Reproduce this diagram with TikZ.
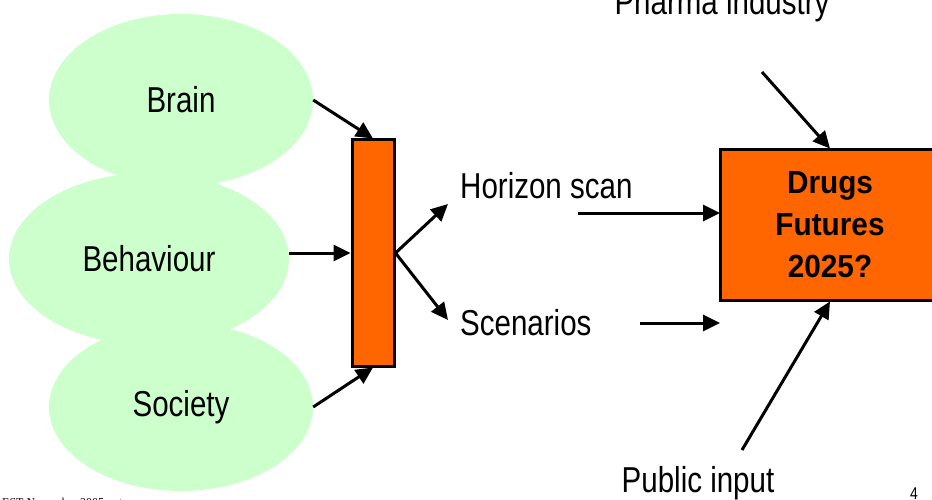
\documentclass[tikz,border=0pt]{standalone}
\usepackage{fontspec}
\setmainfont[FakeStretch=0.82]{Liberation Sans}
\newfontfamily\boxfont[FakeStretch=0.93]{Liberation Sans}
\newfontfamily\footfont{Liberation Serif}
\usetikzlibrary{shapes.geometric,arrows.meta}
\definecolor{palegreen}{HTML}{CCFFCC}
\definecolor{deeporange}{HTML}{FF6600}
\tikzset{
  blob/.style={ellipse, fill=palegreen, inner sep=0pt, minimum width=264pt, minimum height=172pt, font=\fontsize{36}{40}\selectfont},
  label/.style={inner sep=0pt, font=\fontsize{36}{40}\selectfont},
  arr/.style={line width=3pt, -{Triangle[length=17pt,width=16pt]}}
}
\begin{document}
\begin{tikzpicture}[x=1pt,y=-1pt]

    % Fix the page to the slide size
    \useasboundingbox (0,0) rectangle (932,500);

    % The three green bubbles on the left
    \node[blob] (brain) at (181,100) {Brain};
    \node[blob, minimum width=280pt] (behaviour) at (149,259) {Behaviour};
    \node[blob, minimum height=168pt] (society) at (181,407) {Society};

    % The orange bar in the middle
    \node[draw, line width=3pt, fill=deeporange, minimum width=42pt, minimum height=226pt] (bar) at (373,253) {};

    % The main box (runs off the right edge)
    \node[draw, line width=3pt, fill=deeporange, minimum width=220pt, minimum height=150pt,
          align=center, font=\boxfont\bfseries\fontsize{32}{42}\selectfont] (drugs) at (830,225)
          {Drugs\\Futures\\2025?};

    % Text labels
    \node[label, anchor=base west] (horizon) at (460,198) {Horizon scan};
    \node[label, anchor=base west] (scenarios) at (460,335) {Scenarios};
    \node[label, anchor=base] (pharma) at (722,15) {Pharma industry};
    \node[label, anchor=base] (public) at (698,492) {Public input};

    % Free ends of the arrows
    \coordinate (hs tip) at (448,204);
    \coordinate (sc tip) at (448,320);
    \coordinate (hs start) at (578,213);
    \coordinate (hs end) at (720,213);
    \coordinate (sc start) at (640,323);
    \coordinate (sc end) at (720,323);
    \coordinate (ph start) at (762,72);
    \coordinate (pu start) at (742,450);

    % Arrows into the bar
    \draw[arr] (brain.east) -- (bar.north);
    \draw[arr] (bar.west -| behaviour.east) -- (bar.west);
    \draw[arr] (society.east) -- (bar.south);

    % Arrows out of the bar
    \draw[arr] (bar.east) -- (hs tip);
    \draw[arr] (bar.east) -- (sc tip);

    % Arrows towards the main box
    \draw[arr] (hs start) -- (hs end);
    \draw[arr] (sc start) -- (sc end);
    \draw[arr] (ph start) -- (drugs.north);
    \draw[arr] (pu start) -- (drugs.south);

    % Footer
    \node[inner sep=0pt, anchor=base west, font=\footfont\fontsize{12}{14}\selectfont] (file) at (2,506) {EST November 2005.ppt};
    \node[inner sep=0pt, anchor=base west, font=\fontsize{17}{20}\selectfont] (page) at (910,499) {4};

\end{tikzpicture}
\end{document}
